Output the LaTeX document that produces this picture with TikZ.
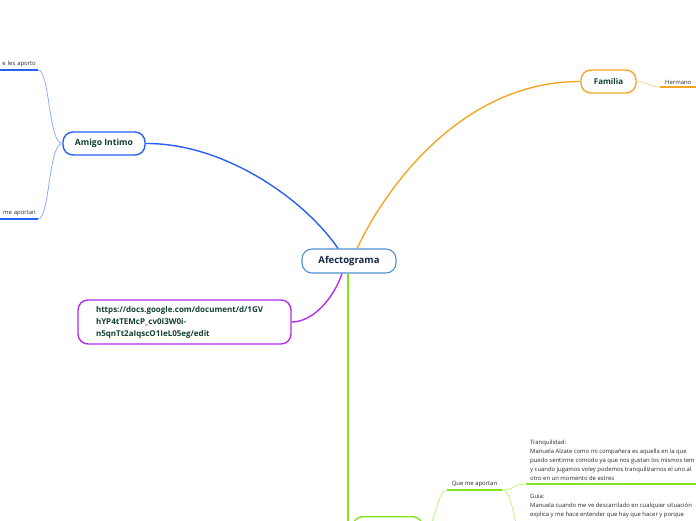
\documentclass[tikz,border=0pt]{standalone}
\usepackage{fontspec}
\setmainfont{Open Sans}
\usepackage{tikz}
\usetikzlibrary{positioning,calc}
\definecolor{afedge}{RGB}{76,146,210}
\definecolor{afink}{RGB}{22,38,72}
\definecolor{tpink}{RGB}{18,62,52}
\definecolor{lfink}{RGB}{40,40,40}
\definecolor{amblue}{RGB}{40,96,245}
\definecolor{amblue2}{RGB}{140,172,255}
\definecolor{faor}{RGB}{246,166,35}
\definecolor{faor2}{RGB}{249,210,150}
\definecolor{urlpu}{RGB}{180,44,240}
\definecolor{cpgr}{RGB}{132,228,28}
\definecolor{cpgr2}{RGB}{190,244,130}
\tikzset{
  topic/.style={
    draw, line width=1.4pt, rounded corners=10pt, fill=white,
    align=center, inner sep=3pt, font=\fontsize{8}{10}\selectfont\bfseries,
    text=tpink, minimum height=23pt
  },
  central/.style={topic, draw=afedge, line width=1.1pt, text=afink,
    font=\fontsize{9.5}{11}\selectfont\bfseries, minimum height=24pt},
  leaf/.style={font=\fontsize{5.9}{9}\selectfont, text=lfink, inner xsep=2pt, inner ysep=2.5pt},
  leafblock/.style={leaf, align=left, inner xsep=4pt, inner ysep=3pt},
  main/.style={line width=1.4pt},
  sub/.style={line width=0.8pt},
  ul/.style={line width=1.8pt}
}
\begin{document}
\begin{tikzpicture}[x=1pt,y=-1pt]
  \useasboundingbox (0,0) rectangle (696,520);
  \clip (0,0) rectangle (696,520);

  \node[central, minimum width=94pt] (afec) at (349,261) {Afectograma};
  \node[topic, draw=amblue, minimum width=82pt, font=\fontsize{8.6}{10}\selectfont\bfseries] (amigo) at (104,143.5) {Amigo Intimo};
  \node[topic, draw=faor, minimum width=55pt] (familia) at (608.5,81.5) {Familia};
  \node[topic, draw=urlpu, text width=177pt, inner xsep=18pt, minimum height=44pt,
    align=left, font=\fontsize{8}{12}\selectfont\bfseries] (url) at (184.5,322)
    {https://docs.google.com/document/d/1GV\\hYP4tTEMcP\_cv0I3W0i-\\n5qnTt2aIqscO1IeL05eg/edit};
  \node[topic, draw=cpgr, anchor=north west, minimum width=70pt, minimum height=34pt] (comp) at (352,516) {};

  % hojas
  \node[leaf, anchor=south east, text width=36pt, align=right] (aporto) at (38,70) {e les aporto};
  \node[leaf, anchor=south east, text width=36pt, align=right] (aportan) at (38,219) {me aportan};
  \node[leaf, anchor=south west, text width=40pt, inner xsep=5pt, align=left] (herm) at (660,87) {Hermano};
  \node[leaf, anchor=south, minimum width=55pt] (que) at (474.5,490) {Que me aportan};
  \node[leafblock, anchor=south west] (tranq) at (526,484)
    {Tranquilidad:\\Manuela Alzate como mi compañera es aquella en la que\\puedo sentirme comodo ya que nos gustan los mismos tem\\y cuando jugamos voley podemos tranquilizarnos el uno al\\otro en un momento de estres};
  \node[leafblock, anchor=north west] (guia) at (526,491)
    {Guia:\\Manuela cuando me ve descarrilado en cualquier situación\\explica y me hace entender que hay que hacer y porque};
  \coordinate (guiaul) at (526,540);

  % ramas principales
  \draw[main, amblue] ([xshift=-11pt]afec.north) .. controls (305,200) and (225,143) .. (amigo.east);
  \draw[main, faor] ([xshift=8pt]afec.north) .. controls (392,175) and (470,81) .. (familia.west);
  \draw[main, urlpu] ([xshift=-7pt]afec.south) .. controls (333,300) and (312,322) .. (url.east);
  \draw[main, cpgr] ([xshift=-1pt]afec.south) |- (comp.west);

  % subramas
  \draw[sub, amblue2] (amigo.west) .. controls +(-14,0) and +(12,0) .. (aporto.south east);
  \draw[sub, amblue2] (amigo.west) .. controls +(-14,0) and +(12,0) .. (aportan.south east);
  \draw[ul, amblue] (aporto.south west) -- (aporto.south east);
  \draw[ul, amblue] (aportan.south west) -- (aportan.south east);
  \draw[sub, faor2] (familia.east) .. controls +(12,0) and +(-12,0) .. (herm.south west);
  \draw[ul, faor] (herm.south west) -- (herm.south east);
  \draw[sub, cpgr2] (comp.east) .. controls +(10,0) and +(-10,0) .. (que.south west);
  \draw[ul, cpgr] (que.south west) -- (que.south east);
  \draw[sub, cpgr2] (que.south east) .. controls +(12,0) and +(-12,0) .. (tranq.south west);
  \draw[sub, cpgr2] (que.south east) .. controls +(12,0) and +(-12,0) .. (guiaul);
  \draw[ul, cpgr] (tranq.south west) -- (tranq.south east);
\end{tikzpicture}
\end{document}
